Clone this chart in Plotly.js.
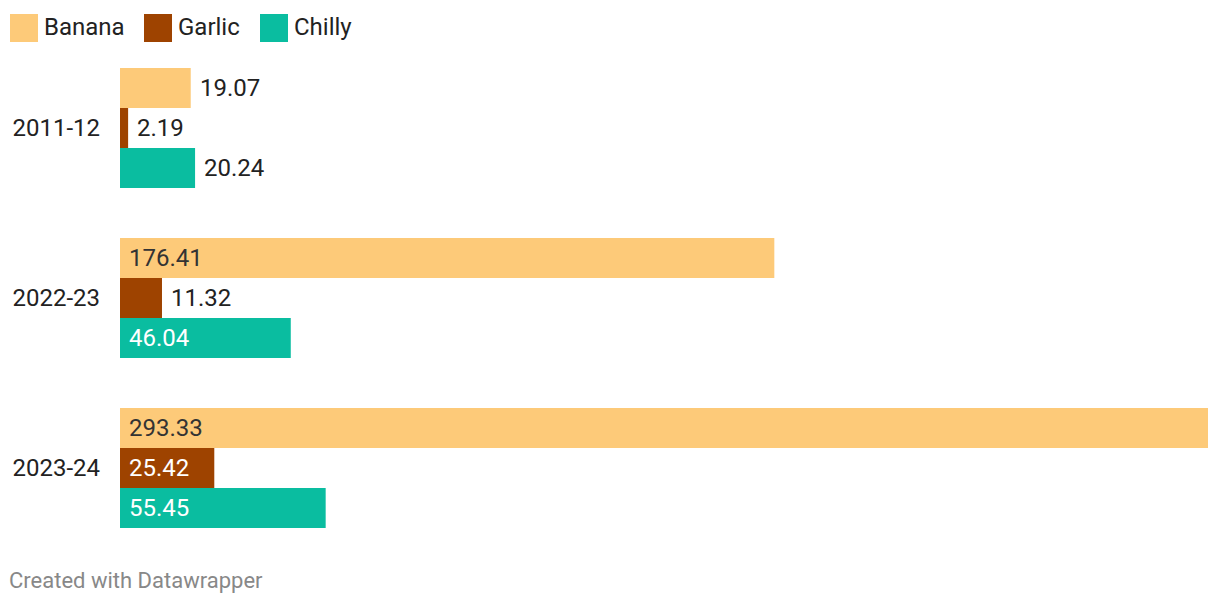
<!DOCTYPE html>
<html>
<head>
<meta charset="utf-8">
<script src="https://cdn.plot.ly/plotly-3.0.1.min.js"></script>
<style>
  html, body { margin: 0; padding: 0; background: #fff; }
  #chart { width: 1220px; height: 606px; }
</style>
</head>
<body>
<div id="chart"></div>
<script>
// ---- data ----
const years = ["2011-12", "2022-23", "2023-24"];
const seriesNames = ["Banana", "Garlic", "Chilly"];
const banana = [19.07, 176.41, 293.33];
const garlic = [2.19, 11.32, 25.42];
const chilly = [20.24, 46.04, 55.45];
const footer = "Created with Datawrapper";

// ---- styles ----
const colors = ["#fdca79", "#9e4300", "#0abda0"];
const insideTextColors = ["#333333", "#ffffff", "#ffffff"];
const W = 1220, H = 606;
const M = { l: 120, r: 12, t: 43, b: 53 };
const plotW = W - M.l - M.r, plotH = H - M.t - M.b;
const FONT = "Roboto, 'Open Sans', sans-serif";
const FS = 24;
const barPx = 40;

const allSeries = [banana, garlic, chilly];
const xmax = Math.max(...banana, ...garlic, ...chilly);
const pxPerUnit = plotW / xmax;

const traces = allSeries.map((vals, i) => ({
  type: "bar",
  orientation: "h",
  name: seriesNames[i],
  y: years,
  x: vals,
  marker: { color: colors[i], line: { width: 0 } },
  hoverinfo: "x+name"
}));

const px2x = p => (p - M.l) / plotW;
const px2y = p => (M.t + plotH - p) / plotH;

const annotations = [];
allSeries.forEach((vals, i) => {
  vals.forEach((v, j) => {
    const txt = v.toFixed(2);
    const textW = txt.length * 22 * 0.56;
    const inside = v * pxPerUnit > textW + 20;
    annotations.push({
      x: inside ? 0 : v,
      y: years[j],
      xref: "x", yref: "y",
      text: txt,
      showarrow: false,
      xanchor: "left",
      yanchor: "middle",
      xshift: 7,
      yshift: (1 - i) * barPx,
      font: { family: FONT, size: FS, color: inside ? insideTextColors[i] : "#222222" }
    });
  });
});

// legend (manual, large squares)
const shapes = [];
const legendX = [10, 144, 260];
seriesNames.forEach((n, i) => {
  shapes.push({
    type: "rect", xref: "paper", yref: "paper",
    x0: px2x(legendX[i]), x1: px2x(legendX[i] + 28),
    y0: px2y(42), y1: px2y(14),
    fillcolor: colors[i], line: { width: 0 }
  });
  annotations.push({
    xref: "paper", yref: "paper",
    x: px2x(legendX[i] + 32), y: px2y(27),
    xanchor: "left", yanchor: "middle",
    text: n, showarrow: false,
    font: { family: FONT, size: FS, color: "#222222" }
  });
});

annotations.push({
  xref: "paper", yref: "paper",
  x: px2x(7), y: px2y(580),
  xanchor: "left", yanchor: "middle",
  text: footer, showarrow: false,
  font: { family: FONT, size: 22, color: "#888888" }
});

const layout = {
  width: W, height: H,
  margin: M,
  paper_bgcolor: "#ffffff",
  plot_bgcolor: "#ffffff",
  showlegend: false,
  barmode: "group",
  bargap: 50 / 170,
  bargroupgap: 0,
  font: { family: FONT, size: FS, color: "#222222" },
  xaxis: {
    range: [0, xmax],
    showgrid: false, zeroline: false, showticklabels: false,
    showline: false, ticks: "", fixedrange: true
  },
  yaxis: {
    type: "category",
    autorange: "reversed",
    showgrid: false, zeroline: false, showline: false,
    ticks: "",
    ticklabelstandoff: 19,
    tickfont: { family: FONT, size: FS, color: "#222222" },
    fixedrange: true
  },
  shapes: shapes,
  annotations: annotations
};

Plotly.newPlot("chart", traces, layout, { displayModeBar: false, staticPlot: true });
</script>
</body>
</html>
